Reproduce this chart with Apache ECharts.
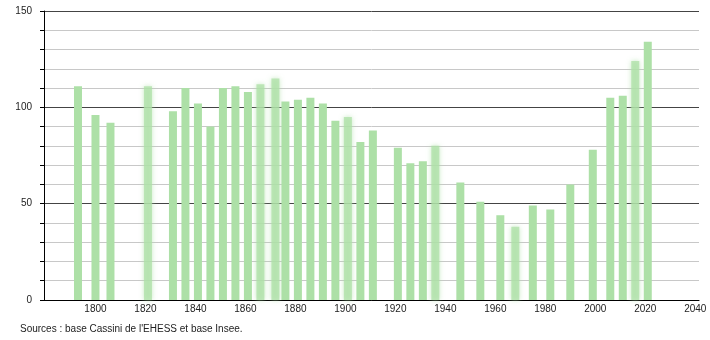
<!DOCTYPE html>
<html>
<head>
<meta charset="utf-8">
<script src="https://cdn.jsdelivr.net/npm/echarts@6/dist/echarts.min.js"></script>
<style>html,body{margin:0;padding:0;background:#fff}#c{width:710px;height:340px}</style>
</head>
<body>
<div id="c"></div>
<script>
const years = [1793,1800,1806,1821,1831,1836,1841,1846,1851,1856,1861,1866,1872,1876,1881,1886,1891,1896,1901,1906,1911,1921,1926,1931,1936,1946,1954,1962,1968,1975,1982,1990,1999,2006,2011,2016,2021];
const population = [111,96,92,111,98,110,102,90,110,111,108,112,115,103,104,105,102,93,95,82,88,79,71,72,80,61,51,44,38,49,47,60,78,105,106,124,134];
const xTickLabels = [1800,1820,1840,1860,1880,1900,1920,1940,1960,1980,2000,2020,2040];
const yTickLabels = [0,50,100,150];
const softYears = [1821,1866,1872,1901,1936,1968,2016];

const barColor = '#ade0a7';
const data = years.map((y, i) => {
  const soft = softYears.indexOf(y) >= 0;
  return {
    value: [y, population[i]],
    itemStyle: soft ? { color: 'rgba(173,224,167,0.75)', shadowBlur: 5, shadowColor: 'rgba(173,224,167,0.9)' } : { color: barColor }
  };
});

const chart = echarts.init(document.getElementById('c'), null, { renderer: 'canvas' });
chart.setOption({
  animation: false,
  backgroundColor: '#fff',
  grid: { left: 44, right: 11, top: 11, bottom: 40 },
  xAxis: {
    type: 'value',
    min: 1779.4,
    max: 2041.5,
    axisLine: { show: true, lineStyle: { color: '#000', width: 1 } },
    axisTick: { show: false },
    splitLine: { show: false },
    axisLabel: {
      customValues: xTickLabels,
      color: '#222',
      fontSize: 10,
      fontFamily: 'Liberation Sans, Arial, sans-serif',
      margin: 4,
      formatter: v => String(v)
    }
  },
  yAxis: {
    type: 'value',
    min: 0,
    max: 150,
    interval: 10,
    axisLine: { show: true, lineStyle: { color: '#000', width: 1 } },
    axisTick: { show: true, length: 4, lineStyle: { color: '#000' } },
    splitLine: { show: true, lineStyle: { color: ['#444', '#c8c8c8', '#c8c8c8', '#c8c8c8', '#c8c8c8'], width: 1 } },
    axisLabel: {
      color: '#222',
      fontSize: 10,
      fontFamily: 'Liberation Sans, Arial, sans-serif',
      margin: 12,
      formatter: v => (yTickLabels.indexOf(v) >= 0 ? String(v) : '')
    }
  },
  series: [{
    type: 'bar',
    barWidth: 8,
    data: data
  }],
  graphic: [{
    type: 'text',
    left: 20,
    top: 324,
    style: {
      text: "Sources : base Cassini de l'EHESS et base Insee.",
      fill: '#222',
      fontSize: 10,
      fontFamily: 'Liberation Sans, Arial, sans-serif'
    }
  }]
});
</script>
</body>
</html>
